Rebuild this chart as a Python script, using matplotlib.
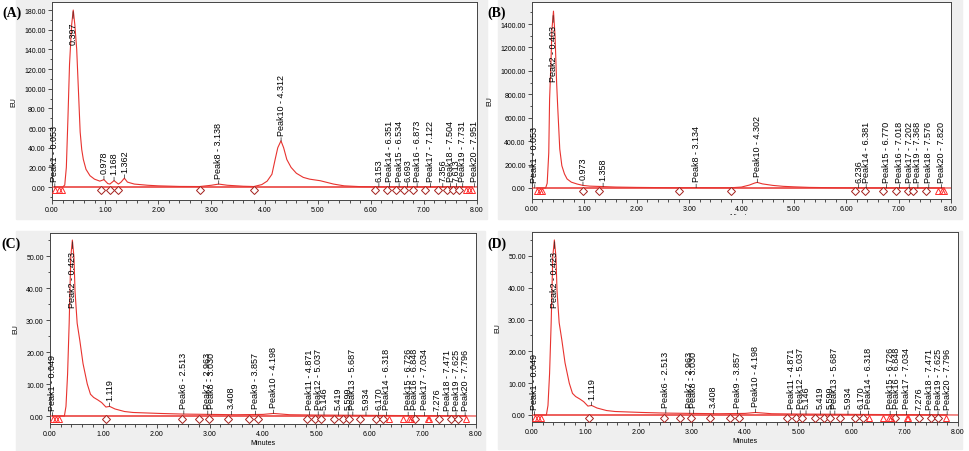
import numpy as np
import matplotlib
matplotlib.use("Agg")
import matplotlib.pyplot as plt
from matplotlib.patches import Rectangle
from matplotlib.transforms import Bbox
from matplotlib.ticker import MultipleLocator, FormatStrFormatter

plt.rcParams['font.family'] = ['Liberation Sans', 'DejaVu Sans']

W, H = 969, 452

# ---- panel A : trace (minutes, EU) ----
a_time = [0.00, 0.20, 0.24, 0.27, 0.30, 0.33, 0.35, 0.37, 0.40, 0.43, 0.465, 0.50,
          0.53, 0.56, 0.59, 0.64, 0.715, 0.80, 0.90, 0.978, 1.05, 1.09, 1.168, 1.25,
          1.30, 1.362, 1.42, 1.55, 1.80, 2.00, 2.40, 2.78, 3.00, 3.138, 3.30, 3.60,
          3.80, 3.95, 4.05, 4.14, 4.20, 4.25, 4.31, 4.36, 4.42, 4.50, 4.60, 4.73,
          4.85, 5.05, 5.30, 5.50, 5.80, 6.10, 8.00]
a_eu = [0.0, 0.0, 2, 20, 70, 125, 145, 165, 180, 165, 140, 95,
        56, 38, 28, 18, 11.5, 8, 6, 7.5, 3.5, 3, 6.5, 3,
        5, 9, 5, 3, 1.8, 1.2, 0.6, 0.5, 1.8, 3, 1.8, 0.8,
        0.5, 2.5, 6, 13, 28, 40, 47, 40, 28, 20, 14, 9.8,
        8, 6.4, 3, 1.2, 0.4, 0.2, 0.1]
a_labels = ["Peak1 - 0.053", "0.397", "0.978", "1.168", "1.362", "Peak8 - 3.138",
            "Peak10 - 4.312", "6.153", "Peak14 - 6.351", "Peak15 - 6.534", "6.693",
            "Peak16 - 6.873", "Peak17 - 7.122", "7.356", "Peak18 - 7.504", "7.613",
            "Peak19 - 7.731", "Peak20 - 7.951"]
a_diamonds = [0.92, 1.09, 1.25, 2.78, 3.80, 6.08, 6.30, 6.47, 6.63, 6.80, 7.02,
              7.26, 7.44, 7.54, 7.66]
a_triangles = [0.06, 0.13, 0.19, 7.80, 7.85, 7.90]

# ---- panel B ----
b_time = [0.00, 0.26, 0.29, 0.32, 0.336, 0.36, 0.38, 0.41, 0.44, 0.47, 0.49, 0.53,
          0.57, 0.62, 0.67, 0.75, 0.86, 0.973, 1.10, 1.358, 1.60, 2.00, 2.50, 2.80,
          3.134, 3.50, 3.80, 4.00, 4.15, 4.25, 4.30, 4.40, 4.60, 4.80, 5.00, 5.30,
          5.80, 6.20, 8.00]
b_eu = [0, 0, 40, 300, 760, 1044, 1350, 1510, 1300, 900, 700, 333,
        190, 120, 77, 50, 34, 22, 16, 12, 8, 5, 3, 2,
        3, 2, 2, 8, 25, 42, 48, 35, 22, 14, 10, 5,
        2, 1, 0]
b_labels = ["Peak1 - 0.053", "Peak2 - 0.403", "0.973", "1.358", "Peak8 - 3.134",
            "Peak10 - 4.302", "6.236", "Peak14 - 6.381", "Peak15 - 6.770",
            "Peak16 - 7.018", "Peak17 - 7.202", "Peak19 - 7.368", "Peak18 - 7.576",
            "Peak20 - 7.820"]
b_diamonds = [0.97, 1.28, 2.80, 3.80, 6.17, 6.36, 6.70, 6.95, 7.17, 7.28, 7.52]
b_triangles = [0.10, 0.16, 0.20, 7.76, 7.82, 7.87]

# ---- panel C ----
c_time = [0.00, 0.27, 0.30, 0.33, 0.36, 0.39, 0.42, 0.45, 0.47, 0.51, 0.56, 0.62,
          0.70, 0.76, 0.82, 0.90, 0.97, 1.05, 1.12, 1.22, 1.40, 1.56, 2.06, 2.50,
          3.00, 3.50, 4.00, 4.198, 4.50, 5.00, 6.00, 7.00, 8.00]
c_eu = [0, 0, 3, 13, 29, 49.7, 55, 49.7, 39, 29, 23.6, 16.4,
        10, 6.8, 5.8, 5.0, 4.2, 2.8, 3.0, 2.2, 1.4, 1.1, 0.8, 0.6,
        0.5, 0.4, 0.5, 0.8, 0.4, 0.3, 0.2, 0.1, 0.0]
c_labels = ["Peak1 - 0.049", "Peak2 - 0.423", "1.119", "Peak6 - 2.513",
            "Peak7 - 2.963", "Peak8 - 3.030", "3.408", "Peak9 - 3.857",
            "Peak10 - 4.198", "Peak11 - 4.871", "Peak12 - 5.037", "5.146", "5.419",
            "5.599", "Peak13 - 5.687", "5.934", "6.170", "Peak14 - 6.318",
            "Peak15 - 6.726", "Peak16 - 6.848", "Peak17 - 7.034", "7.276",
            "Peak18 - 7.471", "Peak19 - 7.625", "Peak20 - 7.796"]
c_diamonds = [1.06, 2.48, 2.79, 2.98, 3.35, 3.73, 3.90, 4.82, 4.97, 5.09, 5.34,
              5.50, 5.62, 5.82, 6.12, 6.26, 6.86, 7.31, 7.53, 7.66]
c_triangles = [0.06, 0.12, 0.17, 6.36, 6.63, 6.75, 6.78, 7.09, 7.11, 7.82]

# ---- panel D (trace looks the same as C) ----
d_time = c_time
d_eu = c_eu
d_labels = c_labels
d_diamonds = [1.07, 2.48, 2.78, 2.98, 3.34, 3.71, 3.88, 4.79, 4.95, 5.07, 5.31,
              5.48, 5.59, 5.79, 6.06, 6.21, 6.82, 7.27, 7.50, 7.63]
d_triangles = [0.06, 0.11, 0.16, 6.33, 6.59, 6.71, 6.74, 7.05, 7.07, 7.77]

TRACE = '#e8332f'


def draw_panel(ax, time, eu, labels, diamonds, triangles, ylim, ystep):
    ax.plot(time, eu, color=TRACE, lw=0.8, zorder=3)
    ax.plot([triangles[0], triangles[-1]], [0, 0], color=TRACE, lw=1.1, zorder=2)
    mark_y = -0.018 * ylim[1]
    ax.plot(diamonds, [mark_y] * len(diamonds), ls='none', marker='D', ms=4,
            mfc='white', mec='#a3201c', mew=0.7, zorder=4)
    ax.plot(triangles, [mark_y] * len(triangles), ls='none', marker='^', ms=4.5,
            mfc='none', mec='#ff2b2b', mew=0.7, zorder=4)

    for txt in labels:
        t = float(txt.split()[-1])
        h = np.interp(t, time, eu)
        arrow = dict(arrowstyle='-', lw=0.5, color='#222222', shrinkA=0, shrinkB=0)
        if h > 0.6 * ylim[1]:
            ax.annotate(txt, xy=(t, h), xytext=(0, -7), textcoords='offset points',
                        rotation=90, ha='center', va='top', fontsize=6.5,
                        arrowprops=arrow, zorder=5)
        else:
            ax.annotate(txt, xy=(t, h), xytext=(0, 4.5), textcoords='offset points',
                        rotation=90, ha='center', va='bottom', fontsize=6.5,
                        arrowprops=arrow, zorder=5)

    ax.set_xlim(0, 8)
    ax.set_ylim(*ylim)
    ax.xaxis.set_major_locator(MultipleLocator(1))
    ax.xaxis.set_minor_locator(MultipleLocator(0.2))
    ax.yaxis.set_major_locator(MultipleLocator(ystep))
    ax.yaxis.set_minor_locator(MultipleLocator(ystep / 2))
    ax.xaxis.set_major_formatter(FormatStrFormatter('%.2f'))
    ax.yaxis.set_major_formatter(FormatStrFormatter('%.2f'))
    ax.tick_params(which='both', direction='out', labelsize=5, width=0.6,
                   color='#333333', pad=1.5)
    ax.tick_params(which='major', length=3)
    ax.tick_params(which='minor', length=1.8)
    for sp in ax.spines.values():
        sp.set_linewidth(0.7)
        sp.set_color('#444444')
    ax.set_xlabel('Minutes', fontsize=5, labelpad=1.5)
    ax.set_ylabel('EU', fontsize=5, labelpad=5)


fig = plt.figure(figsize=(W / 100, H / 100), dpi=100)

# light grey software window behind each panel (pixel boxes x0, y0, x1, y1)
for x0, y0, x1, y1 in [(16, 0, 487, 220), (498, 0, 962, 220),
                       (16, 232, 485, 452), (498, 232, 962, 450)]:
    fig.patches.append(Rectangle((x0 / W, 1 - y1 / H), (x1 - x0) / W, (y1 - y0) / H,
                                 transform=fig.transFigure, color='#efefef',
                                 zorder=-5))


def px_axes(left, top, right, bottom):
    return fig.add_axes([left / W, 1 - bottom / H, (right - left) / W, (bottom - top) / H])


ax_a = px_axes(52, 3, 477, 201)
ax_b = px_axes(532, 3, 951, 200)
ax_c = px_axes(50, 234, 476, 425)
ax_d = px_axes(532, 233, 958, 423)

draw_panel(ax_a, a_time, a_eu, a_labels, a_diamonds, a_triangles, (-13.2, 188.2), 20)
draw_panel(ax_b, b_time, b_eu, b_labels, b_diamonds, b_triangles, (-94, 1588), 200)
draw_panel(ax_c, c_time, c_eu, c_labels, c_diamonds, c_triangles, (-2.5, 57.2), 10)
draw_panel(ax_d, d_time, d_eu, d_labels, d_diamonds, d_triangles, (-2.2, 57.5), 10)

# the top screenshots are cut off through the "Minutes" label
for ax in (ax_a, ax_b):
    lab = ax.xaxis.label
    ax.xaxis.labelpad = 0.3
    lab.set_clip_box(Bbox.from_extents(0, H - 215.5, W, H))
    lab.set_clip_on(True)

for x, y, letter in [(12, 13, '(A)'), (497, 13, '(B)'), (11, 244, '(C)'), (497, 244, '(D)')]:
    fig.text(x / W, 1 - y / H, letter, family='Liberation Serif', weight='bold',
             size=10, ha='center', va='center')

fig.savefig('out.png', dpi=100)
